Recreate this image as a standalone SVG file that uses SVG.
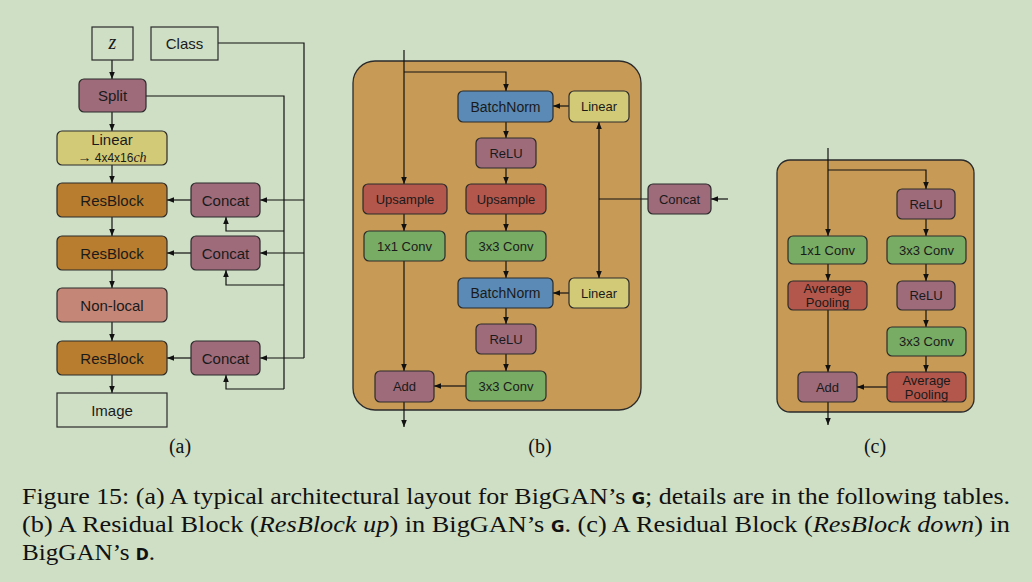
<svg xmlns="http://www.w3.org/2000/svg" width="1032" height="582" viewBox="0 0 1032 582">
<defs>
<marker id="ah" viewBox="0 0 8 8" refX="8" refY="4" markerWidth="7" markerHeight="7" markerUnits="userSpaceOnUse" orient="auto">
<path d="M0,0.8 L8,4 L0,7.2 z" fill="#111"/>
</marker>
<style>
.n{stroke:#2b2b2b;stroke-width:1.2}
.w{fill:#cfdfc6}
.rb{fill:#b87d2e}
.mv{fill:#9e6b7b}
.yl{fill:#d3ca78}
.sa{fill:#c48677}
.rd{fill:#b3574c}
.gr{fill:#78ab64}
.bl{fill:#5a8ab5}
.big{fill:#c79a55;stroke:#2b2b2b;stroke-width:1.3}
.t{font-family:"Liberation Sans",Arial,sans-serif;fill:#1a1a1a;text-anchor:middle}
.ta{font-size:15px}
.tb{font-size:13px}
.c path,.c line,.c polyline{fill:none;stroke:#111;stroke-width:1.2}
.cap{font-family:"Liberation Serif","Times New Roman",serif;font-size:24px;fill:#111}
.sub{font-family:"Liberation Serif","Times New Roman",serif;font-size:20px;fill:#111;text-anchor:middle}
.g{font-family:"DejaVu Sans",sans-serif;font-weight:bold;font-size:15px}
</style>
</defs>
<rect width="1032" height="582" fill="#cfdfc6"/>

<!-- Panel b / c containers -->
<rect id="blockUp" class="big" x="353" y="61" width="288" height="349" rx="22"/>
<rect id="blockDown" class="big" x="777" y="160" width="197" height="252" rx="13"/>

<!-- Connectors -->
<g id="connectors" class="c">
<!-- (a) -->
<line x1="112" y1="60" x2="112" y2="79" marker-end="url(#ah)"/>
<line x1="112" y1="112" x2="112" y2="131" marker-end="url(#ah)"/>
<line x1="112" y1="165" x2="112" y2="183" marker-end="url(#ah)"/>
<line x1="112" y1="217" x2="112" y2="236" marker-end="url(#ah)"/>
<line x1="112" y1="270" x2="112" y2="288" marker-end="url(#ah)"/>
<line x1="112" y1="322" x2="112" y2="341" marker-end="url(#ah)"/>
<line x1="112" y1="375" x2="112" y2="393" marker-end="url(#ah)"/>
<line x1="191" y1="200" x2="167" y2="200" marker-end="url(#ah)"/>
<line x1="191" y1="253" x2="167" y2="253" marker-end="url(#ah)"/>
<line x1="191" y1="358" x2="167" y2="358" marker-end="url(#ah)"/>
<polyline points="218,43 304,43 304,358"/>
<line x1="304" y1="200" x2="260" y2="200" marker-end="url(#ah)"/>
<line x1="304" y1="253" x2="260" y2="253" marker-end="url(#ah)"/>
<line x1="304" y1="358" x2="260" y2="358" marker-end="url(#ah)"/>
<polyline points="146,96 284,96 284,389"/>
<polyline points="284,231 226,231 226,217" marker-end="url(#ah)"/>
<polyline points="284,285 226,285 226,270" marker-end="url(#ah)"/>
<polyline points="284,389 226,389 226,375" marker-end="url(#ah)"/>
<!-- (b) -->
<line x1="404" y1="50" x2="404" y2="184" marker-end="url(#ah)"/>
<polyline points="404,72 506,72 506,91" marker-end="url(#ah)"/>
<line x1="506" y1="122" x2="506" y2="138" marker-end="url(#ah)"/>
<line x1="506" y1="168" x2="506" y2="184" marker-end="url(#ah)"/>
<line x1="404" y1="214" x2="404" y2="231" marker-end="url(#ah)"/>
<line x1="506" y1="214" x2="506" y2="231" marker-end="url(#ah)"/>
<line x1="506" y1="261" x2="506" y2="278" marker-end="url(#ah)"/>
<line x1="506" y1="308" x2="506" y2="324" marker-end="url(#ah)"/>
<line x1="506" y1="354" x2="506" y2="371" marker-end="url(#ah)"/>
<line x1="404" y1="261" x2="404" y2="371" marker-end="url(#ah)"/>
<line x1="466" y1="386" x2="434" y2="386" marker-end="url(#ah)"/>
<line x1="404" y1="402" x2="404" y2="427" marker-end="url(#ah)"/>
<line x1="569" y1="106" x2="553" y2="106" marker-end="url(#ah)"/>
<line x1="569" y1="293" x2="553" y2="293" marker-end="url(#ah)"/>
<line x1="648" y1="199" x2="599" y2="199"/>
<line x1="599" y1="199" x2="599" y2="122" marker-end="url(#ah)"/>
<line x1="599" y1="199" x2="599" y2="278" marker-end="url(#ah)"/>
<line x1="728" y1="199" x2="711" y2="199" marker-end="url(#ah)"/>
<!-- (c) -->
<line x1="828" y1="148" x2="828" y2="236" marker-end="url(#ah)"/>
<polyline points="828,170 926,170 926,189" marker-end="url(#ah)"/>
<line x1="926" y1="219" x2="926" y2="236" marker-end="url(#ah)"/>
<line x1="828" y1="264" x2="828" y2="281" marker-end="url(#ah)"/>
<line x1="926" y1="264" x2="926" y2="281" marker-end="url(#ah)"/>
<line x1="926" y1="310" x2="926" y2="327" marker-end="url(#ah)"/>
<line x1="926" y1="356" x2="926" y2="372" marker-end="url(#ah)"/>
<line x1="828" y1="310" x2="828" y2="372" marker-end="url(#ah)"/>
<line x1="887" y1="387" x2="857" y2="387" marker-end="url(#ah)"/>
<line x1="828" y1="402" x2="828" y2="425" marker-end="url(#ah)"/>
</g>

<!-- (a) nodes -->
<g id="z"><rect class="n w" x="92" y="27" width="41" height="33"/><text x="112.5" y="49" font-family="Liberation Serif,serif" font-style="italic" font-size="20" text-anchor="middle" fill="#1a1a1a">z</text></g>
<g id="class"><rect class="n w" x="151" y="27" width="67" height="33"/><text class="t ta" x="184.5" y="49">Class</text></g>
<g id="split"><rect class="n mv" x="79" y="79" width="67" height="33" rx="5"/><text class="t ta" x="112.5" y="101">Split</text></g>
<g id="linear"><rect class="n yl" x="57" y="131" width="110" height="34" rx="5"/><text class="t ta" x="112" y="145">Linear</text><text class="t" x="112" y="162" font-size="12"><tspan font-size="14">→</tspan> 4x4x16<tspan font-family="Liberation Serif,serif" font-style="italic" font-size="14">ch</tspan></text></g>
<g id="resblock1"><rect class="n rb" x="57" y="183" width="110" height="34" rx="5"/><text class="t ta" x="112" y="205.5">ResBlock</text></g>
<g id="concat1"><rect class="n mv" x="191" y="183" width="69" height="34" rx="5"/><text class="t ta" x="225.5" y="205.5">Concat</text></g>
<g id="resblock2"><rect class="n rb" x="57" y="236" width="110" height="34" rx="5"/><text class="t ta" x="112" y="258.5">ResBlock</text></g>
<g id="concat2"><rect class="n mv" x="191" y="236" width="69" height="34" rx="5"/><text class="t ta" x="225.5" y="258.5">Concat</text></g>
<g id="nonlocal"><rect class="n sa" x="57" y="288" width="110" height="34" rx="5"/><text class="t ta" x="112" y="310.5">Non-local</text></g>
<g id="resblock3"><rect class="n rb" x="57" y="341" width="110" height="34" rx="5"/><text class="t ta" x="112" y="363.5">ResBlock</text></g>
<g id="concat3"><rect class="n mv" x="191" y="341" width="69" height="34" rx="5"/><text class="t ta" x="225.5" y="363.5">Concat</text></g>
<g id="image"><rect class="n w" x="57" y="393" width="110" height="34"/><text class="t ta" x="112" y="415.5">Image</text></g>

<!-- (b) nodes -->
<g id="bn1"><rect class="n bl" x="458" y="91" width="95" height="31" rx="5"/><text class="t" font-size="14" x="505.5" y="111.5">BatchNorm</text></g>
<g id="linb1"><rect class="n yl" x="569" y="91" width="60" height="31" rx="5"/><text class="t tb" x="599" y="111">Linear</text></g>
<g id="relub1"><rect class="n mv" x="476" y="138" width="60" height="30" rx="5"/><text class="t tb" x="506" y="157.5">ReLU</text></g>
<g id="upl"><rect class="n rd" x="363" y="184" width="84" height="30" rx="5"/><text class="t tb" x="405" y="203.5">Upsample</text></g>
<g id="upr"><rect class="n rd" x="466" y="184" width="80" height="30" rx="5"/><text class="t tb" x="506" y="203.5">Upsample</text></g>
<g id="concatb"><rect class="n mv" x="648" y="184" width="63" height="30" rx="5"/><text class="t tb" x="679.5" y="203.5">Concat</text></g>
<g id="conv1x1b"><rect class="n gr" x="364" y="231" width="81" height="30" rx="5"/><text class="t tb" x="404.5" y="250.5">1x1 Conv</text></g>
<g id="conv3b1"><rect class="n gr" x="466" y="231" width="80" height="30" rx="5"/><text class="t tb" x="506" y="250.5">3x3 Conv</text></g>
<g id="bn2"><rect class="n bl" x="458" y="278" width="95" height="30" rx="5"/><text class="t" font-size="14" x="505.5" y="298">BatchNorm</text></g>
<g id="linb2"><rect class="n yl" x="569" y="278" width="60" height="30" rx="5"/><text class="t tb" x="599" y="297.5">Linear</text></g>
<g id="relub2"><rect class="n mv" x="476" y="324" width="60" height="30" rx="5"/><text class="t tb" x="506" y="343.5">ReLU</text></g>
<g id="addb"><rect class="n mv" x="375" y="371" width="59" height="31" rx="5"/><text class="t tb" x="404.5" y="391">Add</text></g>
<g id="conv3b2"><rect class="n gr" x="466" y="371" width="80" height="30" rx="5"/><text class="t tb" x="506" y="390.5">3x3 Conv</text></g>

<!-- (c) nodes -->
<g id="reluc1"><rect class="n mv" x="897" y="189" width="58" height="30" rx="5"/><text class="t tb" x="926" y="208.5">ReLU</text></g>
<g id="conv1x1c"><rect class="n gr" x="788" y="236" width="79" height="28" rx="5"/><text class="t tb" x="827.5" y="254.5">1x1 Conv</text></g>
<g id="conv3c1"><rect class="n gr" x="887" y="236" width="79" height="28" rx="5"/><text class="t tb" x="926.5" y="254.5">3x3 Conv</text></g>
<g id="apl"><rect class="n rd" x="788" y="281" width="79" height="29" rx="5"/><text class="t tb" x="827.5" y="293">Average</text><text class="t tb" x="827.5" y="307">Pooling</text></g>
<g id="reluc2"><rect class="n mv" x="897" y="281" width="58" height="29" rx="5"/><text class="t tb" x="926" y="300">ReLU</text></g>
<g id="conv3c2"><rect class="n gr" x="887" y="327" width="79" height="29" rx="5"/><text class="t tb" x="926.5" y="346">3x3 Conv</text></g>
<g id="addc"><rect class="n mv" x="798" y="372" width="59" height="30" rx="5"/><text class="t tb" x="827.5" y="391.5">Add</text></g>
<g id="apr"><rect class="n rd" x="887" y="372" width="79" height="30" rx="5"/><text class="t tb" x="926.5" y="385">Average</text><text class="t tb" x="926.5" y="399">Pooling</text></g>

<!-- sub labels -->
<text class="sub" x="180" y="453">(a)</text>
<text class="sub" x="540" y="453">(b)</text>
<text class="sub" x="875" y="453">(c)</text>

<!-- caption -->
<text class="cap" x="22" y="504" textLength="988" lengthAdjust="spacingAndGlyphs">Figure 15: (a) A typical architectural layout for BigGAN’s <tspan class="g">G</tspan>; details are in the following tables.</text>
<text class="cap" x="22" y="532" textLength="988" lengthAdjust="spacingAndGlyphs">(b) A Residual Block (<tspan font-style="italic">ResBlock up</tspan>) in BigGAN’s <tspan class="g">G</tspan>. (c) A Residual Block (<tspan font-style="italic">ResBlock down</tspan>) in</text>
<text class="cap" x="22" y="560" textLength="133" lengthAdjust="spacingAndGlyphs">BigGAN’s <tspan class="g">D</tspan>.</text>
</svg>
